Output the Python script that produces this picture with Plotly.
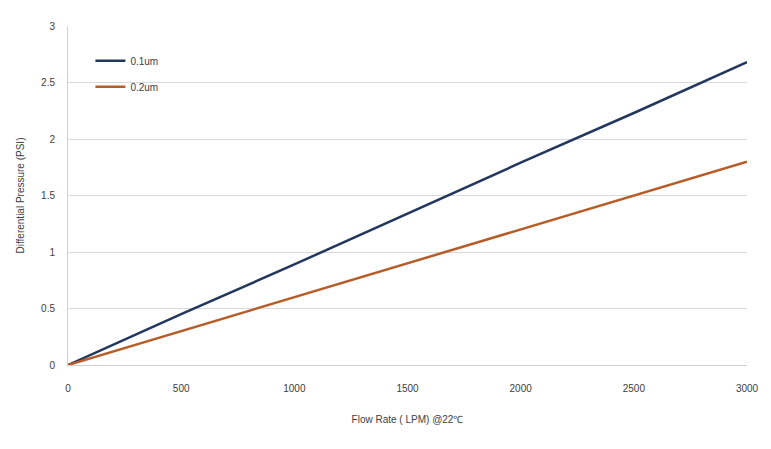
import plotly.graph_objects as go

# Flow rate (LPM) vs differential pressure (PSI)
flow_lpm = [0, 500, 1000, 1500, 2000, 2500, 3000]
dp_01um = [0, 0.45, 0.89, 1.34, 1.79, 2.23, 2.68]
dp_02um = [0, 0.30, 0.60, 0.90, 1.20, 1.50, 1.80]

x_ticks = [0, 500, 1000, 1500, 2000, 2500, 3000]
y_ticks = [0, 0.5, 1, 1.5, 2, 2.5, 3]

fig = go.Figure()

fig.add_trace(go.Scatter(
    x=flow_lpm, y=dp_01um, name='0.1um', mode='lines', legendgroup='a',
    line=dict(color='#22375e', width=2.5),
))
fig.add_trace(go.Scatter(
    x=flow_lpm, y=dp_02um, name='0.2um', mode='lines', legendgroup='b',
    line=dict(color='#b85c27', width=2.5),
))

# page body has an 8px margin, so the figure is a bit smaller than the window
fig.update_layout(
    width=763, height=441,
    margin=dict(l=55, r=23, t=12, b=84),
    paper_bgcolor='white', plot_bgcolor='white',
    font=dict(family='Liberation Sans, Arial, sans-serif', size=10, color='#404040'),
    legend=dict(
        x=0.033, y=0.94, xanchor='left', yanchor='top',
        bgcolor='rgba(0,0,0,0)', font=dict(size=10, color='#404040'),
        itemwidth=30, tracegroupgap=7,
    ),
    showlegend=True,
)

fig.update_xaxes(
    range=[0, 3000], tickvals=x_ticks,
    showgrid=False, zeroline=False,
    showline=True, linecolor='#d0d0d0', linewidth=1,
    ticks='', ticklen=0, ticklabelstandoff=14,
    title=dict(text='Flow Rate ( LPM) @22℃', standoff=22, font=dict(size=10)),
)
fig.update_yaxes(
    range=[0, 3], tickvals=y_ticks,
    showgrid=True, gridcolor='#d9d9d9', gridwidth=1,
    zeroline=False,
    showline=True, linecolor='#d0d0d0', linewidth=1,
    ticks='', ticklen=0, ticklabelstandoff=10,
    title=dict(text='Differential Pressure (PSI)', standoff=14, font=dict(size=10)),
)

fig.write_html("out.html")
